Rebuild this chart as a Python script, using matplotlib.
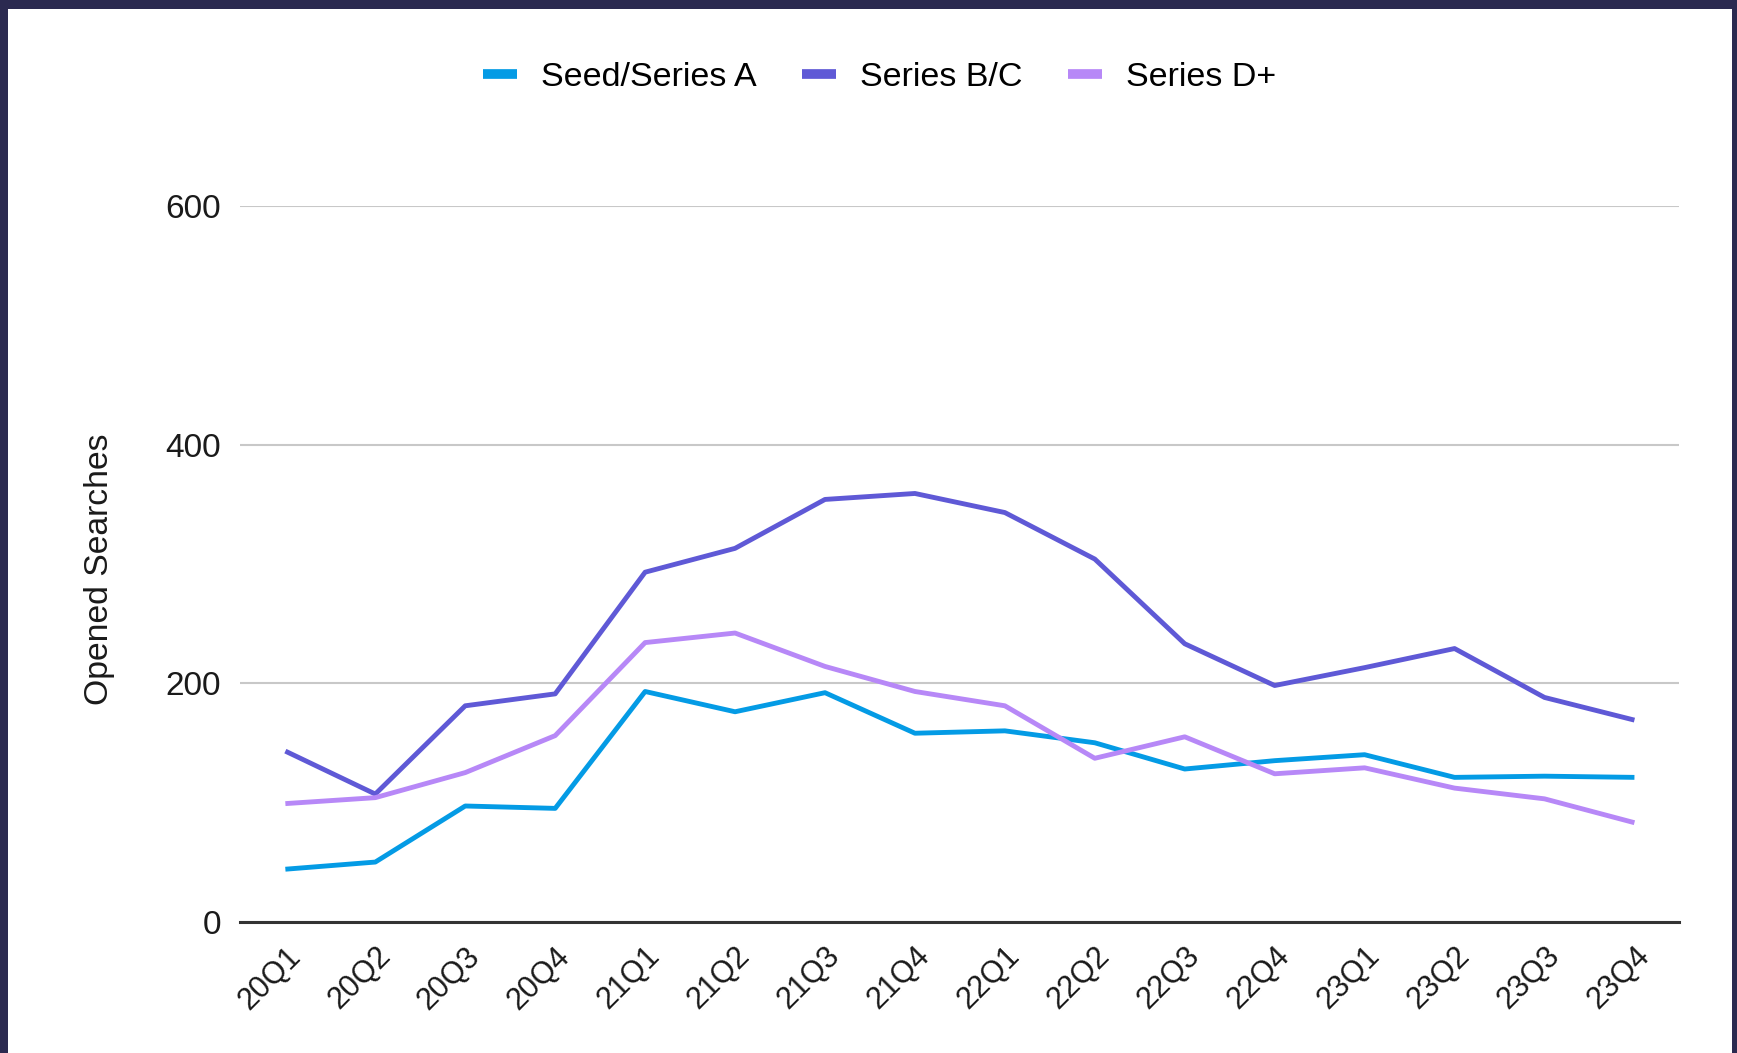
import matplotlib
matplotlib.use("Agg")
import matplotlib.pyplot as plt
from matplotlib.lines import Line2D
from matplotlib.patches import Rectangle

quarters = ["20Q1", "20Q2", "20Q3", "20Q4", "21Q1", "21Q2", "21Q3", "21Q4",
            "22Q1", "22Q2", "22Q3", "22Q4", "23Q1", "23Q2", "23Q3", "23Q4"]
seed_a = [44, 50, 97, 95, 193, 176, 192, 158, 160, 150, 128, 135, 140, 121, 122, 121]
series_bc = [143, 107, 181, 191, 293, 313, 354, 359, 343, 304, 233, 198, 213, 229, 188, 169]
series_d = [99, 104, 125, 156, 234, 242, 214, 193, 181, 137, 155, 124, 129, 112, 103, 83]
series_names = ["Seed/Series A", "Series B/C", "Series D+"]
colors = ["#049be5", "#5f59d6", "#b788f7"]

plt.rcParams["font.family"] = ["Liberation Sans", "DejaVu Sans"]

W, H = 1737, 1053
fig = plt.figure(figsize=(W / 100, H / 100), dpi=100, facecolor="#2b2a50")
# white card inside the navy frame
fig.patches.append(Rectangle((8 / W, 0), (1732 - 8) / W, (H - 9) / H,
                             transform=fig.transFigure, facecolor="white",
                             edgecolor="none", zorder=-10))

ax = fig.add_axes([240.4 / W, (H - 921.7) / H, (1679.4 - 240.4) / W, (921.7 - 206) / H])
ax.set_facecolor("white")

x = list(range(len(quarters)))
for vals, name, c in zip([seed_a, series_bc, series_d], series_names, colors):
    ax.plot(x, vals, color=c, lw=3.5, label=name,
            solid_joinstyle="round", solid_capstyle="butt", zorder=3)

ax.set_xlim(-0.5, len(quarters) - 0.5)
ax.set_ylim(0, 600)
ax.set_yticks([0, 200, 400, 600])
ax.set_xticks(x)
# anchored at the top-right corner so the slanted labels sit slightly right of the tick
ax.set_xticklabels(quarters, rotation=45, ha="right", va="top",
                   rotation_mode="anchor", fontsize=22, color="#1a1a1a")
ax.tick_params(axis="x", length=0, pad=14)
ax.tick_params(axis="y", length=0, pad=14, labelsize=24, labelcolor="#1a1a1a")

ax.grid(axis="y", color="#c8c8c8", lw=1.5, zorder=1)
for s in ["top", "right", "left"]:
    ax.spines[s].set_visible(False)
ax.spines["bottom"].set_color("#333333")
ax.spines["bottom"].set_linewidth(2.2)
ax.spines["bottom"].set_zorder(4)

ax.set_ylabel("Opened Searches", fontsize=24.3, color="#1a1a1a")
ax.yaxis.set_label_coords(-0.087, 0.493)

handles = [Line2D([], [], color=c, lw=7, solid_capstyle="butt") for c in colors]
fig.legend(handles, series_names, loc="center", bbox_to_anchor=(879.6 / W, 1 - 77.5 / H),
           ncol=3, frameon=False, fontsize=24.5, handlelength=1.0,
           handletextpad=0.7, columnspacing=1.35)

fig.savefig("out.png", dpi=100, facecolor=fig.get_facecolor())
